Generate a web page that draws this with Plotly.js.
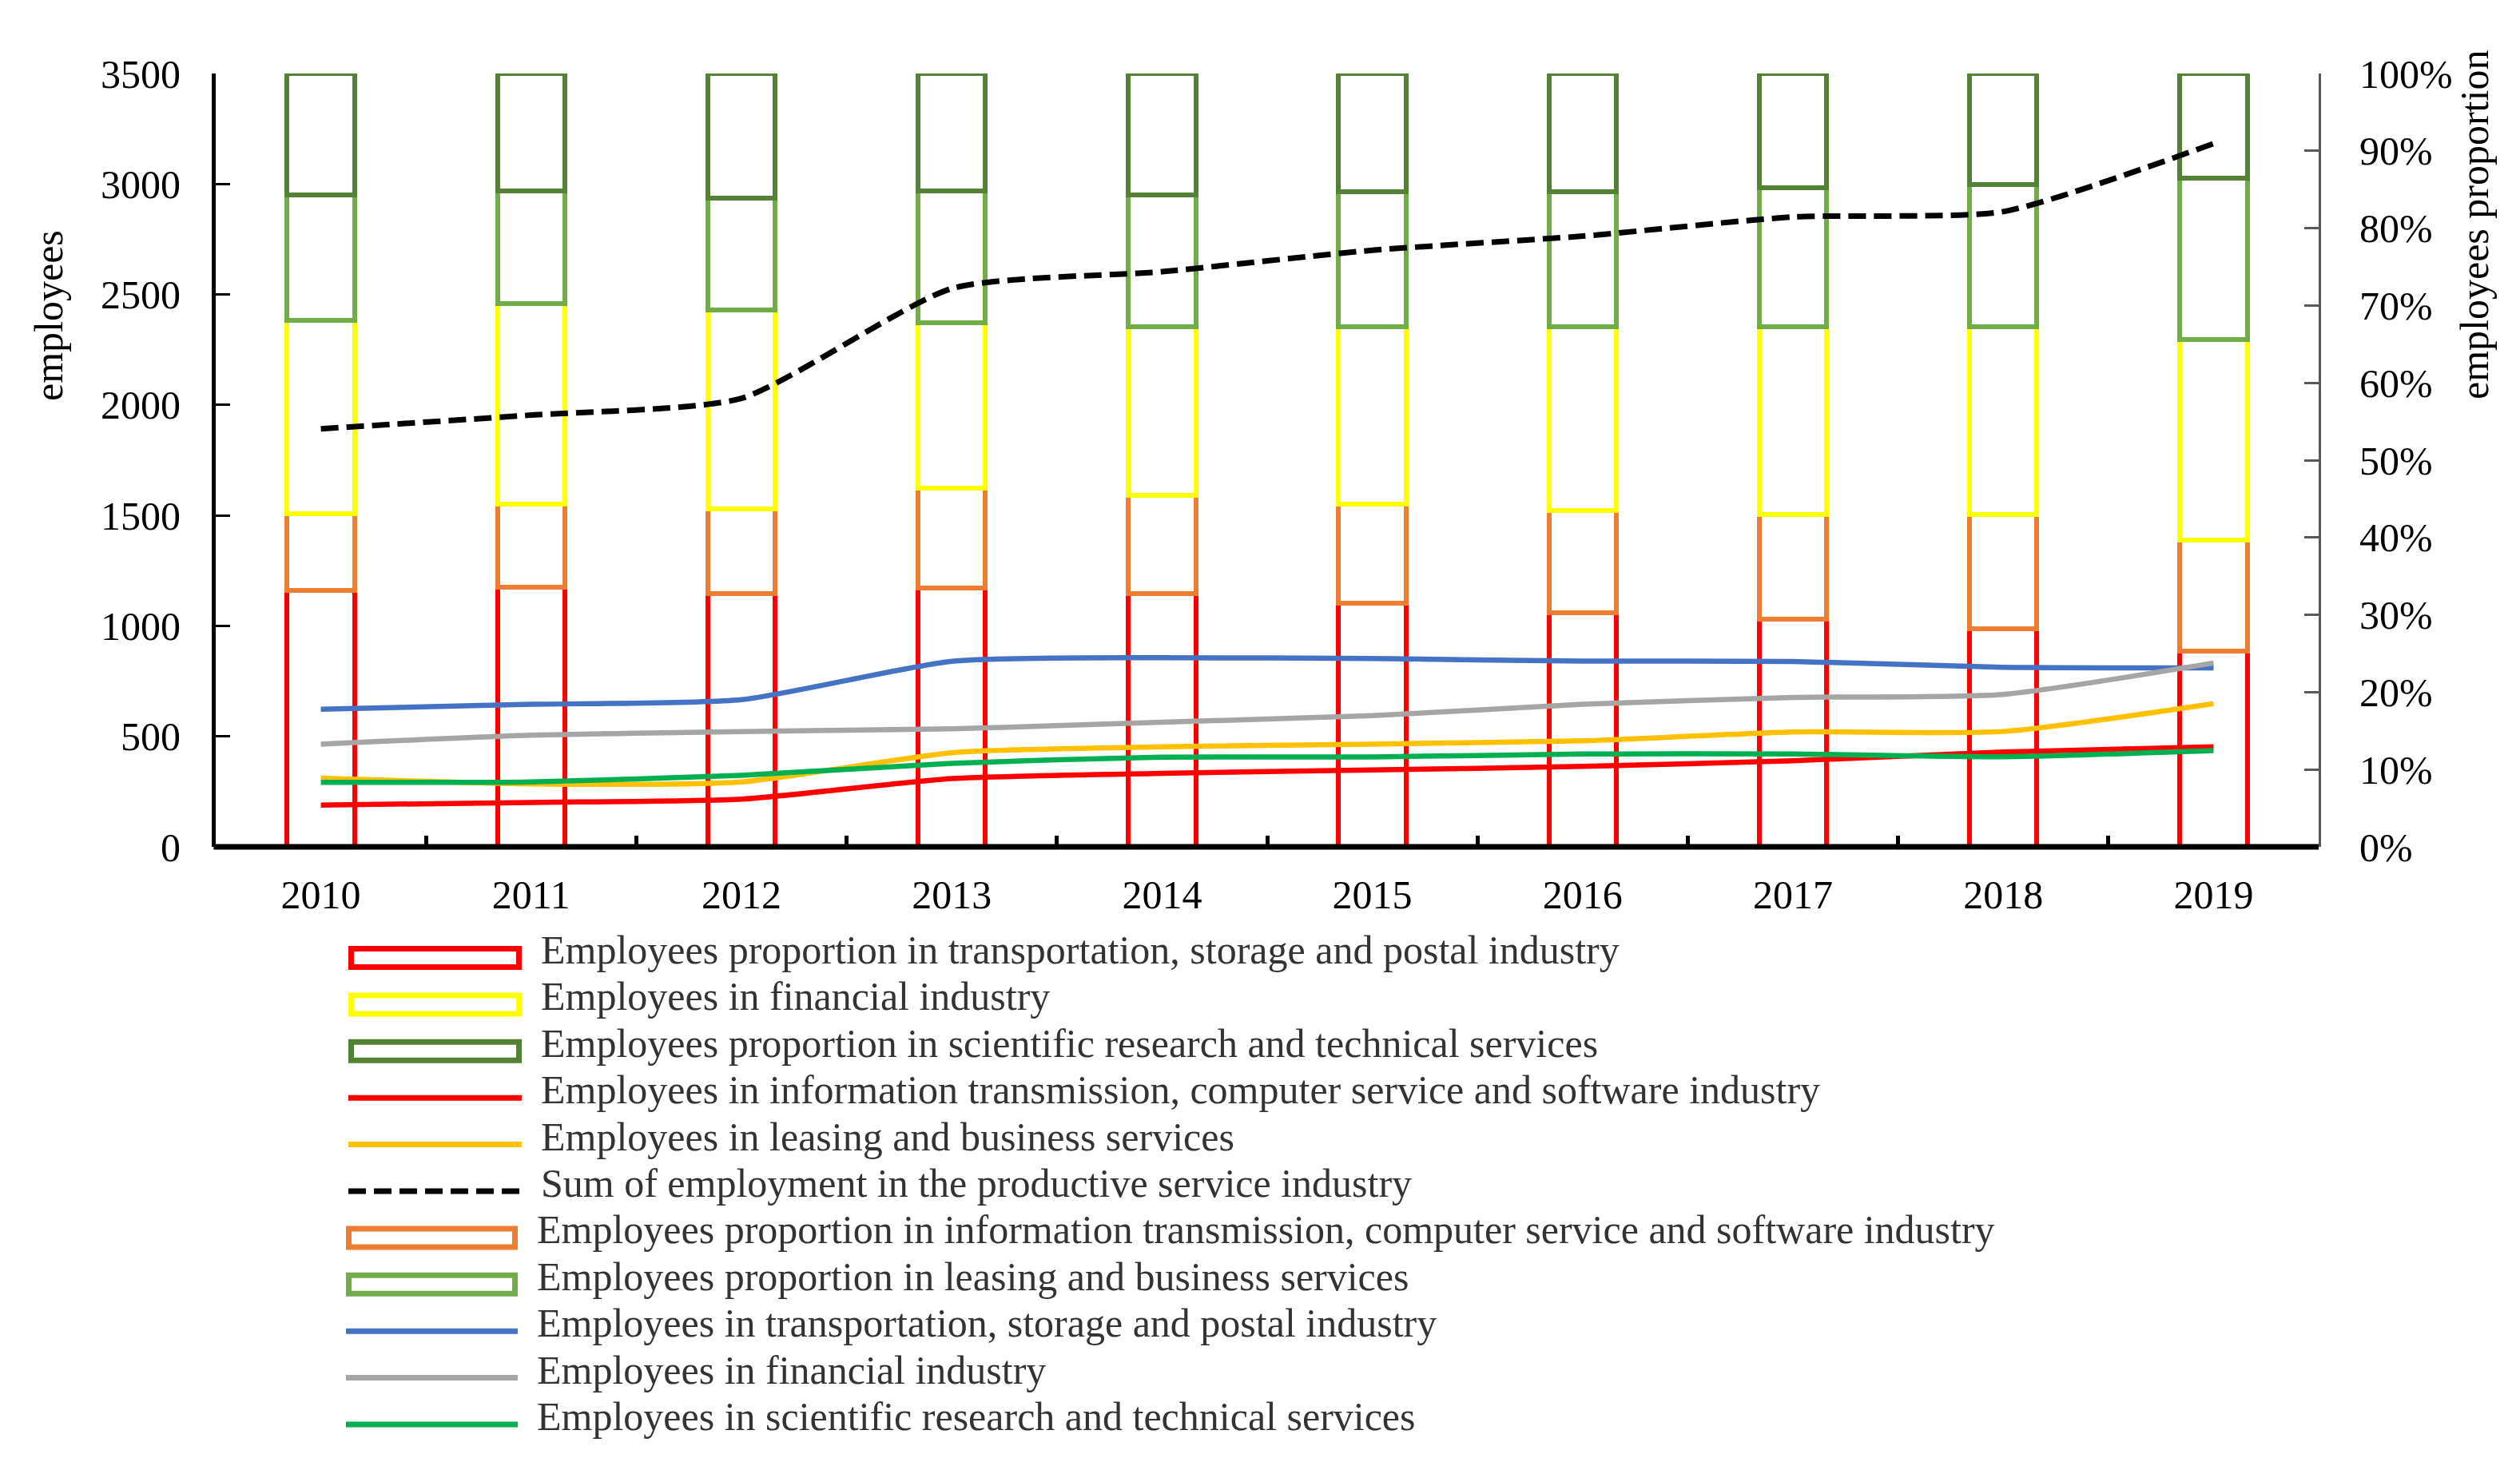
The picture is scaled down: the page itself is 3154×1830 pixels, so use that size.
<!DOCTYPE html>
<html>
<head>
<meta charset="utf-8">
<script src="https://cdn.plot.ly/plotly-3.0.1.min.js"></script>
<style>
html,body{margin:0;padding:0;background:#fff;overflow:hidden}
#chart{width:3154px;height:1830px}
</style>
</head>
<body>
<div id="chart"></div>
<script>
// ---------------- DATA ----------------
const years = ['2010','2011','2012','2013','2014','2015','2016','2017','2018','2019'];

// employees proportion (%), right axis, stacked bars (bottom -> top)
const propTransport = [33.2, 33.6, 32.7, 33.5, 32.7, 31.5, 30.3, 29.4, 28.2, 25.3];
const propInfo      = [9.9, 10.7, 11.0, 12.9, 12.8, 12.8, 13.2, 13.6, 14.8, 14.4];
const propFinance   = [25.0, 25.9, 25.7, 21.4, 21.8, 23.0, 23.8, 24.3, 24.3, 25.9];
const propLeasing   = [16.2, 14.6, 14.5, 17.0, 17.0, 17.4, 17.4, 17.9, 18.3, 20.9];
const propScience   = [15.7, 15.2, 16.1, 15.2, 15.7, 15.3, 15.3, 14.8, 14.4, 13.5];

// employees, left axis, lines
const empInfo      = [189, 201, 216, 309, 333, 348, 364, 390, 429, 453];
const empLeasing   = [311, 285, 294, 426, 453, 465, 480, 520, 522, 648];
const empSum       = [1892, 1954, 2030, 2527, 2603, 2700, 2764, 2851, 2875, 3183];
const empTransport = [623, 645, 666, 840, 856, 852, 841, 839, 813, 810];
const empFinance   = [465, 505, 522, 534, 564, 594, 645, 676, 690, 832];
const empScience   = [292, 294, 324, 378, 406, 407, 420, 420, 408, 436];

const leftTicks  = [0, 500, 1000, 1500, 2000, 2500, 3000, 3500];
const rightTicks = [0, 10, 20, 30, 40, 50, 60, 70, 80, 90, 100];
const rightTickText = ['0%', '10%', '20%', '30%', '40%', '50%', '60%', '70%', '80%', '90%', '100%'];

const leftTitle  = 'employees';
const rightTitle = 'employees proportion';

const nameTransportProp = 'Employees proportion in transportation, storage and postal industry';
const nameFinanceProp   = 'Employees in financial industry';
const nameScienceProp   = 'Employees proportion in scientific research and technical services';
const nameInfoEmp       = 'Employees in information transmission, computer service and software industry';
const nameLeasingEmp    = 'Employees in leasing and business services';
const nameSum           = 'Sum of employment in the productive service industry';
const nameInfoProp      = 'Employees proportion in information transmission, computer service and software industry';
const nameLeasingProp   = 'Employees proportion in leasing and business services';
const nameTransportEmp  = 'Employees in transportation, storage and postal industry';
const nameFinanceEmp    = 'Employees in financial industry';
const nameScienceEmp    = 'Employees in scientific research and technical services';

// ---------------- STYLE ----------------
const FONT = 'Liberation Serif, Times New Roman, serif';
const C = {
  red: '#FF0000', orange: '#ED7D31', yellow: '#FFFF00', lgreen: '#70AD47', dgreen: '#548235',
  blue: '#4472C4', gray: '#A5A5A5', gold: '#FFC000', green: '#00B050', black: '#000000'
};
const W = 3154, H = 1830;
const M = {l: 270, r: 252, t: 92, b: 770};
const plotW = W - M.l - M.r, plotH = H - M.t - M.b;
const px2x = p => (p - M.l) / plotW;
const px2y = p => (H - M.b - p) / plotH;

function barTrace(y, name, color) {
  return {
    type: 'bar', x: years, y: y, name: name, yaxis: 'y',
    marker: {color: 'rgba(0,0,0,0)', line: {color: color, width: 6}},
    hoverinfo: 'x+y+name'
  };
}
function lineTrace(y, name, color, dash, width) {
  return {
    type: 'scatter', mode: 'lines', x: years, y: y, name: name, yaxis: 'y2',
    line: {color: color, width: width || 6.5, shape: 'spline', smoothing: 0.6, dash: dash || 'solid'},
    hoverinfo: 'x+y+name'
  };
}

const traces = [
  barTrace(propTransport, nameTransportProp, C.red),
  barTrace(propInfo, nameInfoProp, C.orange),
  barTrace(propFinance, nameFinanceProp, C.yellow),
  barTrace(propLeasing, nameLeasingProp, C.lgreen),
  barTrace(propScience, nameScienceProp, C.dgreen),
  lineTrace(empInfo, nameInfoEmp, C.red),
  lineTrace(empLeasing, nameLeasingEmp, C.gold),
  lineTrace(empTransport, nameTransportEmp, C.blue),
  lineTrace(empFinance, nameFinanceEmp, C.gray),
  lineTrace(empScience, nameScienceEmp, C.green),
  lineTrace(empSum, nameSum, C.black, '22px,10px', 7)
];

// ---------------- CUSTOM LEGEND (layout only) ----------------
const legendItems = [
  {name: nameTransportProp, kind: 'box',  color: C.red,    group: 0},
  {name: nameFinanceProp,   kind: 'box',  color: C.yellow, group: 0},
  {name: nameScienceProp,   kind: 'box',  color: C.dgreen, group: 0},
  {name: nameInfoEmp,       kind: 'line', color: C.red,    group: 0},
  {name: nameLeasingEmp,    kind: 'line', color: C.gold,   group: 0},
  {name: nameSum,           kind: 'dash', color: C.black,  group: 0},
  {name: nameInfoProp,      kind: 'box',  color: C.orange, group: 1},
  {name: nameLeasingProp,   kind: 'box',  color: C.lgreen, group: 1},
  {name: nameTransportEmp,  kind: 'line', color: C.blue,   group: 1},
  {name: nameFinanceEmp,    kind: 'line', color: C.gray,   group: 1},
  {name: nameScienceEmp,    kind: 'line', color: C.green,  group: 1}
];
const LG = {y0: 1199, dy: 58.4, symX: [[436, 653], [433, 648]], textX: [675, 670], textDy: -10};
const shapes = [], annotations = [];
legendItems.forEach((it, i) => {
  const cy = LG.y0 + LG.dy * i;
  const [sx0, sx1] = LG.symX[it.group];
  if (it.kind === 'box') {
    shapes.push({type: 'rect', xref: 'paper', yref: 'paper',
      x0: px2x(sx0 + 3.5), x1: px2x(sx1 - 3.5), y0: px2y(cy + 11.5), y1: px2y(cy - 11.5),
      line: {color: it.color, width: 7}, fillcolor: 'rgba(0,0,0,0)'});
  } else {
    shapes.push({type: 'line', xref: 'paper', yref: 'paper',
      x0: px2x(sx0), x1: px2x(sx1), y0: px2y(cy), y1: px2y(cy),
      line: {color: it.color, width: 7, dash: it.kind === 'dash' ? '22px,10px' : 'solid'}});
  }
  annotations.push({xref: 'paper', yref: 'paper', x: px2x(LG.textX[it.group]), y: px2y(cy + LG.textDy),
    xanchor: 'left', yanchor: 'middle', showarrow: false, text: it.name,
    font: {family: FONT, size: 50, color: '#333333'}});
});
// category-axis baseline drawn over the bar bottoms (as in the reference)
shapes.push({type: 'line', xref: 'paper', yref: 'paper', x0: -0.001, x1: 1, y0: 0, y1: 0,
  layer: 'above', line: {color: '#000', width: 7}});

// axis titles (positioned as in reference)
annotations.push({xref: 'paper', yref: 'paper', x: px2x(61), y: px2y(395), xanchor: 'center', yanchor: 'middle',
  showarrow: false, text: leftTitle, textangle: -90, font: {family: FONT, size: 50, color: '#000'}});
annotations.push({xref: 'paper', yref: 'paper', x: px2x(3097), y: px2y(282), xanchor: 'center', yanchor: 'middle',
  showarrow: false, text: rightTitle, textangle: -90, font: {family: FONT, size: 50, color: '#000'}});

const tickFont = {family: FONT, size: 50, color: '#000'};
const layout = {
  width: W, height: H,
  margin: M,
  paper_bgcolor: '#fff', plot_bgcolor: '#fff',
  showlegend: false,
  barmode: 'stack', bargap: 0.68,
  font: {family: FONT, size: 50, color: '#000'},
  xaxis: {
    type: 'category', range: [-0.5, 9.5], showgrid: false, zeroline: false,
    showline: false,
    ticks: 'inside', tickson: 'boundaries', ticklen: 14, tickwidth: 5, tickcolor: '#000',
    tickfont: tickFont, ticklabelstandoff: 26
  },
  yaxis: {
    side: 'right', range: [0, 100], tickmode: 'array', tickvals: rightTicks, ticktext: rightTickText,
    showgrid: false, zeroline: false, showline: true, linecolor: '#595959', linewidth: 3,
    ticks: 'inside', ticklen: 18, tickwidth: 3, tickcolor: '#595959',
    tickfont: tickFont, ticklabelstandoff: 38
  },
  yaxis2: {
    overlaying: 'y', side: 'left', range: [0, 3500], tickmode: 'array', tickvals: leftTicks,
    showgrid: false, zeroline: false, showline: true, linecolor: '#000', linewidth: 5,
    ticks: 'inside', ticklen: 18, tickwidth: 3, tickcolor: '#000',
    tickfont: tickFont, ticklabelstandoff: 29
  },
  shapes: shapes,
  annotations: annotations
};

Plotly.newPlot('chart', traces, layout, {displayModeBar: false, responsive: false});
</script>
</body>
</html>
